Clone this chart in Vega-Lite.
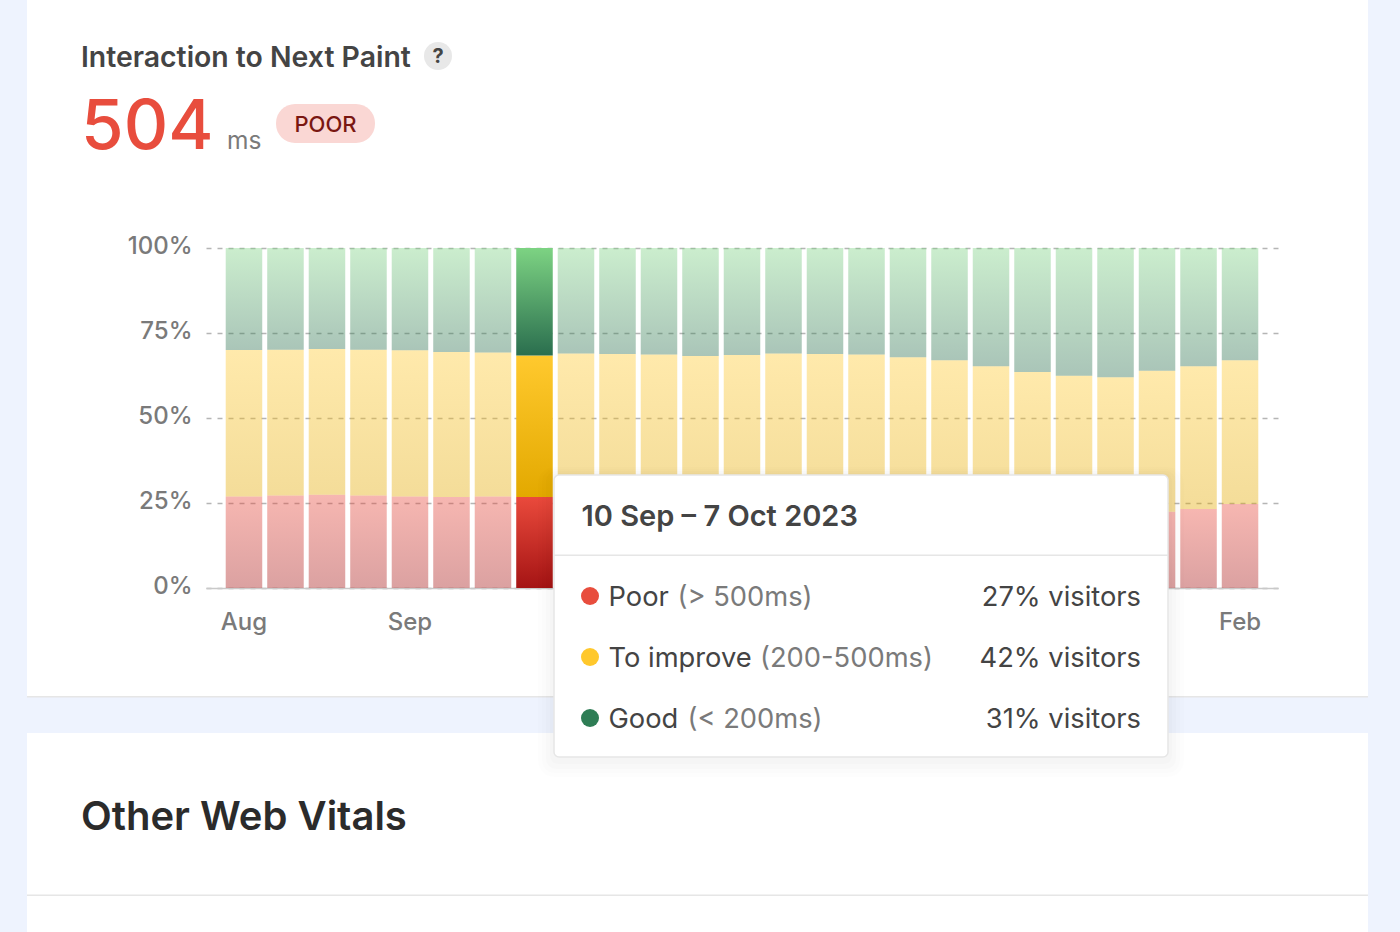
{
"$schema":"https://vega.github.io/schema/vega-lite/v6.json",
"width":1072,"height":340,
"autosize":{"type":"none"},
"padding":{"left":206,"top":248,"right":122,"bottom":344},
"background":"#ffffff",
"config":{"view":{"stroke":null},"font":"Inter"},
"datasets":{
"vitals":[
{"week":"2023-08-19","poor":26.9,"improve":43.1,"good":30.0},
{"week":"2023-08-26","poor":27.2,"improve":42.9,"good":29.9},
{"week":"2023-09-02","poor":27.4,"improve":42.9,"good":29.7},
{"week":"2023-09-09","poor":27.2,"improve":42.9,"good":29.9},
{"week":"2023-09-16","poor":26.9,"improve":43.0,"good":30.1},
{"week":"2023-09-23","poor":26.8,"improve":42.6,"good":30.6},
{"week":"2023-09-30","poor":26.9,"improve":42.4,"good":30.7},
{"week":"2023-10-07","poor":26.8,"improve":41.6,"good":31.6},
{"week":"2023-10-14","poor":26.9,"improve":42.1,"good":31.0},
{"week":"2023-10-21","poor":27.0,"improve":41.8,"good":31.2},
{"week":"2023-10-28","poor":26.8,"improve":41.9,"good":31.3},
{"week":"2023-11-04","poor":26.5,"improve":41.7,"good":31.8},
{"week":"2023-11-11","poor":26.5,"improve":42.0,"good":31.5},
{"week":"2023-11-18","poor":26.5,"improve":42.5,"good":31.0},
{"week":"2023-11-25","poor":26.0,"improve":42.8,"good":31.2},
{"week":"2023-12-02","poor":25.5,"improve":43.2,"good":31.3},
{"week":"2023-12-09","poor":25.0,"improve":42.9,"good":32.1},
{"week":"2023-12-16","poor":24.5,"improve":42.5,"good":33.0},
{"week":"2023-12-23","poor":24.0,"improve":41.2,"good":34.8},
{"week":"2023-12-30","poor":23.5,"improve":40.0,"good":36.5},
{"week":"2024-01-06","poor":23.0,"improve":39.4,"good":37.6},
{"week":"2024-01-13","poor":23.0,"improve":39.0,"good":38.0},
{"week":"2024-01-20","poor":22.4,"improve":41.5,"good":36.1},
{"week":"2024-01-27","poor":23.2,"improve":42.0,"good":34.8},
{"week":"2024-02-03","poor":24.7,"improve":42.3,"good":33.0}
],
"tip":[
{"status":"Poor","range":"(> 500ms)","visitors":"27% visitors"},
{"status":"To improve","range":"(200-500ms)","visitors":"42% visitors"},
{"status":"Good","range":"(< 200ms)","visitors":"31% visitors"}
],
"one":[{"a":1}]
},
"resolve":{"scale":{"y":"independent"}},
"layer":[
{"data":{"name":"vitals"},
 "transform":[
  {"fold":["poor","improve","good"],"as":["status","share"]},
  {"stack":"share","groupby":["week"],"sort":[{"field":"status","order":"descending"}],"as":["s0","s1"]}
 ],
 "encoding":{
  "x":{"field":"week","type":"nominal","title":null,"scale":{"paddingInner":0.12,"paddingOuter":0.475},
   "axis":{"values":["2023-08-19","2023-09-16","2024-02-03"],
    "labelExpr":"datum.value==='2023-08-19'?'Aug':datum.value==='2023-09-16'?'Sep':'Feb'",
    "labelAngle":0,"labelFontSize":24,"labelFontWeight":500,"labelColor":"#7a7a7a","labelPadding":22,"labelFont":"Inter","ticks":false,"domainColor":"#c9c9c9","domainWidth":1.5,"grid":false}},
  "y":{"field":"s1","type":"quantitative","title":null,"stack":null,"scale":{"domain":[0,100],"nice":false},
   "axis":{"values":[0,25,50,75,100],"labelExpr":"datum.value+'%'","labelFontSize":24,"labelFontWeight":500,"labelColor":"#7a7a7a","labelPadding":14,"labelOffset":-1.5,"labelFont":"Inter","ticks":false,"domain":false,"grid":true,"gridColor":"#b5b5b5","gridDash":[5,6],"gridWidth":1.5}},
  "y2":{"field":"s0"},
  "opacity":{"condition":{"test":"datum.week==='2023-10-07'","value":1},"value":0.4}
 },
 "layer":[
  {"transform":[{"filter":"datum.status==='poor'"}],
   "mark":{"type":"bar","color":{"gradient":"linear","x1":0,"y1":0,"x2":0,"y2":1,"stops":[{"offset":0,"color":"#ea4a3c"},{"offset":1,"color":"#a51414"}]}}},
  {"transform":[{"filter":"datum.status==='improve'"}],
   "mark":{"type":"bar","color":{"gradient":"linear","x1":0,"y1":0,"x2":0,"y2":1,"stops":[{"offset":0,"color":"#ffc92e"},{"offset":1,"color":"#e3a900"}]}}},
  {"transform":[{"filter":"datum.status==='good'"}],
   "mark":{"type":"bar","color":{"gradient":"linear","x1":0,"y1":0,"x2":0,"y2":1,"stops":[{"offset":0,"color":"#7dd383"},{"offset":1,"color":"#2a6e4e"}]}}}
 ]
},
{"data":{"name":"one"},"mark":{"type":"rect","x":-206,"x2":-179,"y":-248,"y2":684,"fill":"#eef3fe"},"encoding":{}},
{"data":{"name":"one"},"mark":{"type":"rect","x":1162,"x2":1194,"y":-248,"y2":684,"fill":"#eef3fe"},"encoding":{}},
{"data":{"name":"one"},"mark":{"type":"rect","x":-179,"x2":1162,"y":449,"y2":485,"fill":"#eef3fe"},"encoding":{}},
{"data":{"name":"one"},"mark":{"type":"rect","x":-179,"x2":1162,"y":448,"y2":449.5,"fill":"#e6e6e6"},"encoding":{}},
{"data":{"name":"one"},"mark":{"type":"rect","x":-179,"x2":1162,"y":646.5,"y2":648,"fill":"#e6e6e6"},"encoding":{}},

{"data":{"name":"one"},"mark":{"type":"text","text":"Interaction to Next Paint","x":-125,"y":-181,"align":"left","baseline":"alphabetic","font":"Inter","fontSize":28.4,"fontWeight":600,"color":"#444444"},"encoding":{}},
{"data":{"name":"one"},"mark":{"type":"point","filled":true,"x":232,"y":-192,"size":784,"color":"#e8e8e8","opacity":1},"encoding":{}},
{"data":{"name":"one"},"mark":{"type":"text","text":"?","x":232,"y":-185,"align":"center","baseline":"alphabetic","font":"Inter","fontSize":20,"fontWeight":700,"color":"#444444"},"encoding":{}},
{"data":{"name":"one"},"mark":{"type":"text","text":"504","x":-125,"y":-99,"align":"left","baseline":"alphabetic","font":"Inter","fontSize":69,"fontWeight":500,"color":"#e84d3d"},"encoding":{}},
{"data":{"name":"one"},"mark":{"type":"text","text":"ms","x":21,"y":-99,"align":"left","baseline":"alphabetic","font":"Inter","fontSize":24.5,"color":"#7a7a7a"},"encoding":{}},
{"data":{"name":"one"},"mark":{"type":"rect","x":70,"x2":169,"y":-144,"y2":-105,"fill":"#fad7d4","cornerRadius":19},"encoding":{}},
{"data":{"name":"one"},"mark":{"type":"text","text":"POOR","x":119.5,"y":-116,"align":"center","baseline":"alphabetic","font":"Inter","fontSize":22,"fontWeight":500,"color":"#7a1712"},"encoding":{}},
{"data":{"name":"one"},"mark":{"type":"text","text":"Other Web Vitals","x":-125,"y":582,"align":"left","baseline":"alphabetic","font":"Inter","fontSize":40,"fontWeight":600,"color":"#2b2b2b"},"encoding":{}},

{"data":{"name":"one"},"mark":{"type":"rect","x":332,"x2":978,"y":219,"y2":529,"fill":"#000000","opacity":0.006,"cornerRadius":16},"encoding":{}},
{"data":{"name":"one"},"mark":{"type":"rect","x":336,"x2":974,"y":221,"y2":525,"fill":"#000000","opacity":0.008,"cornerRadius":12},"encoding":{}},
{"data":{"name":"one"},"mark":{"type":"rect","x":340,"x2":970,"y":223,"y2":521,"fill":"#000000","opacity":0.01,"cornerRadius":10},"encoding":{}},
{"data":{"name":"one"},"mark":{"type":"rect","x":344,"x2":966,"y":225,"y2":516,"fill":"#000000","opacity":0.012,"cornerRadius":8},"encoding":{}},
{"data":{"name":"one"},"mark":{"type":"rect","x":348,"x2":962,"y":227,"y2":509,"fill":"#ffffff","stroke":"#e6e6e6","strokeWidth":1.5,"cornerRadius":5},"encoding":{}},
{"data":{"name":"one"},"mark":{"type":"rect","x":348,"x2":962,"y":306.5,"y2":308,"fill":"#e6e6e6"},"encoding":{}},
{"data":{"name":"one"},"mark":{"type":"text","text":"10 Sep – 7 Oct 2023","x":375.5,"y":278,"align":"left","baseline":"alphabetic","font":"Inter","fontSize":29,"fontWeight":600,"color":"#444444"},"encoding":{}},

{"data":{"name":"tip"},
 "encoding":{"y":{"field":"status","type":"nominal","title":null,"axis":null,"scale":{"type":"point","domain":["Poor","To improve","Good"],"range":[348,470],"padding":0}}},
 "layer":[
  {"mark":{"type":"point","filled":true,"x":384,"size":324,"opacity":1},
   "encoding":{"color":{"field":"status","type":"nominal","legend":null,"scale":{"domain":["Poor","To improve","Good"],"range":["#e84d3d","#ffc82c","#2e7d55"]}}}},
  {"mark":{"type":"text","x":402.5,"dy":2,"align":"left","baseline":"middle","font":"Inter","fontSize":27.3,"color":"#444444"},
   "encoding":{"text":{"field":"status"}}},
  {"transform":[{"filter":"datum.status==='Poor'"}],"mark":{"type":"text","x":471.5,"dy":2,"align":"left","baseline":"middle","font":"Inter","fontSize":27.3,"color":"#7a7a7a"},"encoding":{"text":{"field":"range"}}},
  {"transform":[{"filter":"datum.status==='To improve'"}],"mark":{"type":"text","x":554,"dy":2,"align":"left","baseline":"middle","font":"Inter","fontSize":27.3,"color":"#7a7a7a"},"encoding":{"text":{"field":"range"}}},
  {"transform":[{"filter":"datum.status==='Good'"}],"mark":{"type":"text","x":481.5,"dy":2,"align":"left","baseline":"middle","font":"Inter","fontSize":27.3,"color":"#7a7a7a"},"encoding":{"text":{"field":"range"}}},
  {"mark":{"type":"text","x":935,"dy":2,"align":"right","baseline":"middle","font":"Inter","fontSize":27.3,"color":"#444444"},
   "encoding":{"text":{"field":"visitors"}}}
 ]
}
]
}
